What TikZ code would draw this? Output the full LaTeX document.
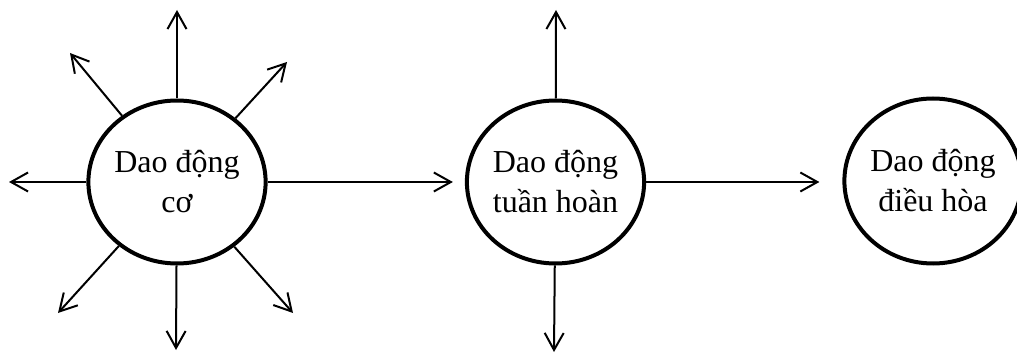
\documentclass[tikz,border=0pt]{standalone}
\usepackage{fontspec}
\setmainfont{Liberation Serif}
\usetikzlibrary{shapes.geometric,arrows.meta}
\tikzset{
  bubble/.style={ellipse,draw,line width=2pt,inner sep=0pt,align=center,
    font=\fontsize{16}{20}\selectfont},
  arr/.style={-{Straight Barb[length=8.5pt,width=9.5pt]},line width=1pt}
}
\begin{document}
\begin{tikzpicture}[x=0.5pt,y=-0.5pt]
\useasboundingbox (0,0) rectangle (1017,363);
\node[bubble,minimum width=88pt,minimum height=81.5pt] (c1) at (177,182) {Dao động\\cơ};
\node[bubble,minimum width=88pt,minimum height=81.5pt] (c2) at (555.5,182) {Dao động\\tuần hoàn};
\node[bubble,minimum width=88.5pt,minimum height=82.5pt] (c3) at (933,181) {Dao động\\điều hòa};
\coordinate (u1) at (177,10);
\coordinate (ul1) at (70,53);
\coordinate (ur1) at (287,62);
\coordinate (l1) at (9,182);
\coordinate (dl1) at (58,313);
\coordinate (d1) at (176,350);
\coordinate (dr1) at (293,313);
\coordinate (u2) at (556,10);
\coordinate (d2) at (554,352);
\foreach \t in {u1,ul1,ur1,l1,dl1,d1,dr1} \draw[arr] (c1) -- (\t);
\foreach \t in {u2,d2} \draw[arr] (c2) -- (\t);
\draw[arr,shorten >=6pt] (c1) -- (c2);
\draw[arr,shorten >=11.5pt] (c2.east) -- (c3.west |- c2.east);
\end{tikzpicture}
\end{document}
